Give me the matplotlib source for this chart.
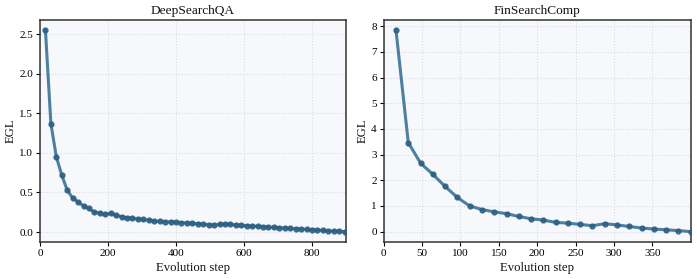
import matplotlib
matplotlib.use("Agg")
import matplotlib.pyplot as plt

# DeepSearchQA: EGL per evolution step (every 16 steps)
dsqa_steps = list(range(16, 897, 16))
dsqa_egl = [2.55, 1.37, 0.95, 0.72, 0.53, 0.43, 0.38, 0.33, 0.30, 0.25,
            0.24, 0.225, 0.235, 0.21, 0.195, 0.18, 0.175, 0.165, 0.16, 0.15,
            0.14, 0.135, 0.13, 0.13, 0.125, 0.12, 0.115, 0.11, 0.105, 0.10,
            0.095, 0.089, 0.098, 0.102, 0.098, 0.089, 0.085, 0.081, 0.076, 0.072,
            0.068, 0.064, 0.059, 0.055, 0.051, 0.047, 0.042, 0.038, 0.034, 0.030,
            0.025, 0.021, 0.017, 0.013, 0.010, 0.006]

# FinSearchComp
fsc_steps = list(range(16, 401, 16))
fsc_egl = [7.85, 3.47, 2.67, 2.23, 1.76, 1.33, 1.0, 0.86, 0.77, 0.70,
           0.59, 0.50, 0.45, 0.36, 0.33, 0.28, 0.23, 0.31, 0.26, 0.20,
           0.14, 0.10, 0.07, 0.04, 0.0]

plt.rcParams["font.family"] = ["Liberation Serif", "DejaVu Serif"]

fig = plt.figure(figsize=(6.97, 2.79), dpi=100)
ax1 = fig.add_axes([40 / 697, 1 - 241.7 / 279, 306 / 697, 221.7 / 279])
ax2 = fig.add_axes([383.7 / 697, 1 - 241.7 / 279, 307 / 697, 221.7 / 279])

panels = [
    (ax1, dsqa_steps, dsqa_egl, "DeepSearchQA", (0, 900)),
    (ax2, fsc_steps, fsc_egl, "FinSearchComp", (0, 400)),
]

for ax, x, y, title, xlim in panels:
    ax.set_facecolor("#f6f8fb")
    ax.plot(x, y, color="#2f6a8f", linewidth=2.2, alpha=0.85,
            marker="o", markersize=3.5, markerfacecolor="#2b5f82",
            markeredgecolor="#2b5f82", zorder=3)
    ax.set_xlim(*xlim)
    ax.grid(True, linestyle=":", color="#d9dde2", linewidth=0.8, zorder=0)
    ax.set_axisbelow(True)
    ax.set_title(title, fontsize=9.6, pad=4, color="#111111")
    ax.set_xlabel("Evolution step", fontsize=9.2, labelpad=3, color="#111111")
    ax.set_ylabel("EGL", fontsize=9.2, labelpad=2, color="#111111")
    ax.tick_params(labelsize=8, length=3, width=0.8, pad=2)
    for s in ax.spines.values():
        s.set_color("#333333")
        s.set_linewidth(1.1)

ax1.set_xticks([0, 200, 400, 600, 800])
ax2.set_xticks([0, 50, 100, 150, 200, 250, 300, 350])

fig.savefig("out.png", dpi=100)
